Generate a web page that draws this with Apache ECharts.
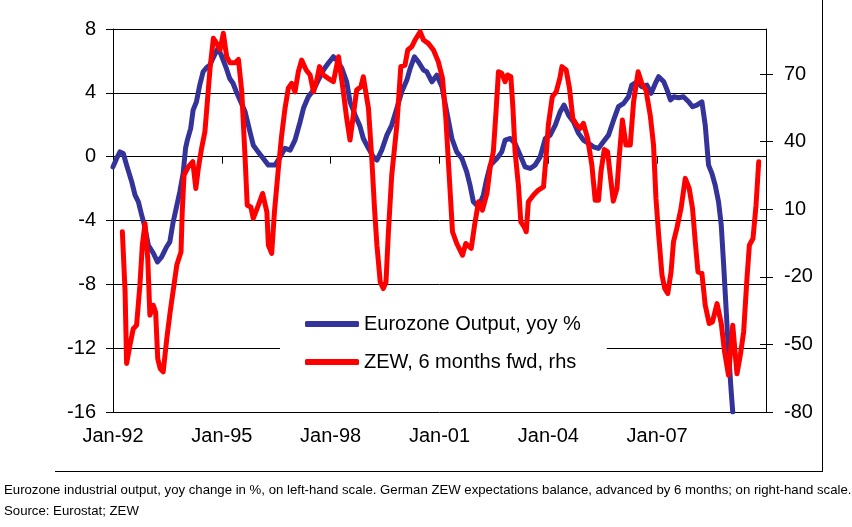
<!DOCTYPE html>
<html>
<head>
<meta charset="utf-8">
<script src="https://cdn.jsdelivr.net/npm/echarts@6/dist/echarts.min.js"></script>
<style>
html,body{margin:0;padding:0;background:#fff;}
#chart{width:852px;height:527px;}
</style>
</head>
<body>
<div id="chart"></div>
<script>
// x positions are months since Jan-92
var xTickLabels = ['Jan-92','Jan-95','Jan-98','Jan-01','Jan-04','Jan-07',''];
var seriesNames = ['Eurozone Output, yoy %', 'ZEW, 6 months fwd, rhs'];

var outputMonths = [0,1.2,2.3,3.4,4.5,6.2,7.3,8.4,9.5,10.4,11.7,13.4,14.7,16.1,17.7,18.8,19.9,21,22.1,23.2,24,24.6,25.7,26.5,27.6,28.7,29.8,30.9,32,33.6,34.7,35.8,37.5,38.6,39.7,40.8,42,43.7,45.3,46.4,48,49.7,51.4,53.6,55.3,56.9,58.6,60.2,61.9,63,64.6,66.3,67.9,69.6,71.2,72.9,74,75.7,77.3,78.4,80.1,81.7,82.8,84.5,86.1,87.3,88.9,90.6,92.2,93.9,95.5,97.2,98.3,99.7,101,102.7,103.8,105.5,107.1,108.8,110.4,112.1,113.7,115.4,117,118.1,119.2,120.9,122.5,123.5,124.8,127,128.6,129.7,131.4,133,134.7,136.3,138,139.6,141.3,143,144.6,146.3,147.9,149.2,150.7,152.3,154,155.6,157.3,158.9,160.6,162.2,163.9,165.6,167.2,168.9,170.5,171.6,173.3,174.9,176.6,178,179.4,180.5,182.2,183.3,184.4,185.5,187.1,188.7,190.4,191.7,193.1,194.8,195.9,197,198.1,199.2,200.3,201.2,202,202.8,203.6,204.5,205];
var outputValues = [-0.64,-0.11,0.3,0.2,-0.53,-1.58,-2.41,-2.83,-3.67,-4.3,-5.55,-6.07,-6.6,-6.28,-5.66,-5.34,-4.09,-3.15,-2.2,-1.05,0.52,1.04,1.77,2.92,3.44,4.49,5.32,5.57,5.74,6.37,6.79,6.37,5.53,4.9,4.6,4.07,3.55,2.81,1.56,0.72,0.3,-0.11,-0.53,-0.53,-0.01,0.52,0.41,1.04,2.19,3.03,3.75,4.17,4.8,5.43,5.85,6.26,6.05,5.53,4.69,3.44,2.6,1.9,1.14,0.52,-0.01,-0.22,0.41,1.35,1.98,3.03,4.07,4.8,5.53,6.26,5.95,5.43,5.32,4.69,5.11,4.38,2.81,1.14,0.3,-0.11,-0.95,-1.79,-2.83,-3.15,-2.41,-1.5,-0.53,-0.11,0.3,1.04,1.14,0.83,0.09,-0.64,-0.74,-0.53,-0.01,1.14,1.35,1.98,2.81,3.23,2.6,2.19,1.46,1.04,0.83,0.62,0.52,0.93,1.35,2.3,3.13,3.34,3.75,4.49,4.69,4.38,4.49,3.97,4.59,5.01,4.69,4.17,3.55,3.75,3.69,3.75,3.44,3.13,3.23,3.44,1.98,-0.53,-1.05,-1.79,-2.83,-4.3,-6.8,-9.52,-12.24,-14.75,-16];

var zewMonths = [3.1,4,4.5,5.6,6.7,7.8,8.9,9.7,10.6,11.5,12.2,13.3,14.1,14.8,15.6,16.6,17.8,18.9,20,21.1,22.5,22.9,23.5,24.9,26.4,27.4,28.2,29.3,30.4,31.3,32.1,33.2,34.3,35.4,36.5,37.6,38.7,40.4,41.5,42.6,43.7,44.4,45.6,46.4,48.1,49.5,50.9,51.4,52.5,53.4,54.7,55.8,56.9,58,59.1,60.2,61.3,62.4,63.9,65.2,66.3,67.4,68.3,69.6,71.2,72.9,74.6,76.2,77.3,78.4,79.5,80.6,82,82.8,83.4,84.5,85.6,86.5,87.3,88.4,89.4,90.3,91.1,92.2,93.9,95.2,96.6,97.5,98.8,99.9,101.6,102.7,104.3,106,107.6,109,110.1,111.2,112.3,113.7,115.6,116.7,118.5,119.6,120.9,122.2,123.7,124.8,125.8,126.7,127.5,128.6,129.7,130.5,131.6,132.3,133,134.1,134.9,136,136.7,137.4,139.1,140.7,142.4,143.3,144,145.3,146.6,147.8,148.5,149.9,151,152.1,153.4,154.5,155.6,157,158.4,159.5,160.6,161.4,162.5,163.6,164.6,165.5,166.7,167.5,168.5,169.7,171.1,172.2,173.7,174.9,176.3,177.7,178.8,179.6,180.5,181.6,182.5,183.5,184.6,185.4,186.5,187.9,189.3,190.6,191.7,192.6,193.5,194.8,195.9,197.2,198.3,199.8,201.2,202.3,203.6,205,206.4,207.5,208.6,209.7,210.5,211.7,212.7,213.6];
var zewValues = [0,-26.7,-58.5,-50.4,-43,-41.5,-23.7,-6,3.7,-11.9,-37,-32.6,-35.6,-56.3,-60.7,-62.2,-47.4,-35.6,-25.2,-14.8,-8.9,8.8,25.1,28.8,31.1,19.2,27.9,37,44.4,59.2,72.5,85.9,83.6,80.7,88.1,77.7,75,75,76.5,62.1,32.6,11.8,11,5.9,11.8,17,8.8,-6,-9.6,8.8,28.1,42.9,54.8,63.7,65.9,62.1,71,76.2,71.8,69.6,62.1,67.3,73.3,69.6,68.1,66.6,77.7,62.1,50.3,40.7,51.8,62.9,64.4,68.8,68.1,54.8,32.6,10.4,-6,-22.3,-25.2,-22.3,0,25.1,47.4,73.3,74,80.7,82.1,85.1,88.8,85.1,83.6,80.7,75.5,68.1,50.3,25.1,0,-5.2,-10.4,-5.2,-7.4,2.9,13.3,9.6,17,29,35.5,53.3,71,70.3,66.6,69.6,68.8,54.8,35.5,20.7,4.4,2.2,0,13.3,16.3,18.5,19.9,34,47.4,59.9,62.1,68.1,73.3,71.8,63.7,50.3,47.4,45.9,48.1,41.4,29.6,14,14,26.6,36.5,35.5,23.7,13.6,19.2,34,49.6,38.5,38.5,57.7,71,65.9,62.9,51.8,38.5,14.8,-1.5,-19.3,-25.2,-27.4,-17.8,-4.5,1.5,10.4,23.7,19.2,10.4,-4.5,-17.8,-18.5,-32.6,-40.7,-40,-31.9,-40.7,-53.3,-63.7,-41.5,-63,-54.8,-44.5,-20.8,-6,-3,11.8,31.1];

var leftTicks = [-16,-12,-8,-4,0,4,8];
var rightTicks = [-80,-50,-20,10,40,70];
var footnotes = [
  'Eurozone industrial output, yoy change in %, on left-hand scale. German ZEW expectations balance, advanced by 6 months; on right-hand scale.',
  'Source: Eurostat; ZEW'
];

function zip(a, b) { return a.map(function (v, i) { return [v, b[i]]; }); }

var FONT = '"Liberation Sans", Arial, sans-serif';
var chart = echarts.init(document.getElementById('chart'), null, {renderer: 'canvas'});
chart.setOption({
  animation: false,
  backgroundColor: '#ffffff',
  textStyle: {fontFamily: FONT},
  grid: {left: 113, right: 86, top: 29, bottom: 115, containLabel: false, show: false},
  xAxis: {
    type: 'value', min: 0, max: 216, interval: 36,
    axisLine: {show: true, lineStyle: {color: '#000', width: 1}},
    axisTick: {show: true, inside: false, length: 7, lineStyle: {color: '#000'}},
    axisLabel: {fontSize: 20, color: '#000', fontFamily: FONT, margin: 14,
      formatter: function (v) { return xTickLabels[Math.round(v / 36)] || ''; }},
    splitLine: {show: false}
  },
  yAxis: [{
    type: 'value', min: -16, max: 8, interval: 4, position: 'left',
    axisLine: {show: true, lineStyle: {color: '#000', width: 1}},
    axisTick: {show: true, inside: false, length: 7, lineStyle: {color: '#000'}},
    axisLabel: {fontSize: 20, color: '#000', fontFamily: FONT, margin: 17,
      customValues: leftTicks},
    splitLine: {show: true, lineStyle: {color: '#000', width: 1}}
  }, {
    type: 'value', min: -80, max: 90, interval: 30, position: 'right',
    axisLine: {show: true, lineStyle: {color: '#000', width: 1}},
    axisTick: {show: true, inside: false, length: 7, lineStyle: {color: '#000'}, customValues: rightTicks},
    axisLabel: {fontSize: 20, color: '#000', fontFamily: FONT, margin: 18, customValues: rightTicks},
    splitLine: {show: false}
  }, {
    type: 'value', min: -80, max: 90, interval: 30, position: 'right',
    axisLine: {show: false},
    axisTick: {show: true, inside: true, length: 6, lineStyle: {color: '#000'}, customValues: rightTicks},
    axisLabel: {show: false},
    splitLine: {show: false}
  }],
  legend: {
    orient: 'vertical', left: 280, top: 296,
    padding: [18, 26, 18, 25],
    backgroundColor: '#ffffff',
    itemWidth: 54, itemHeight: 6, itemGap: 18,
    textStyle: {fontSize: 20, color: '#000', fontFamily: FONT, lineHeight: 20},
    data: [{name: seriesNames[0], icon: 'roundRect'}, {name: seriesNames[1], icon: 'roundRect'}]
  },
  series: [{
    name: seriesNames[0], type: 'line', yAxisIndex: 0,
    data: zip(outputMonths, outputValues),
    symbol: 'none', smooth: false,
    lineStyle: {color: '#333399', width: 5, cap: 'round', join: 'round'},
    itemStyle: {color: '#333399'}
  }, {
    name: seriesNames[1], type: 'line', yAxisIndex: 1,
    data: zip(zewMonths, zewValues),
    symbol: 'none', smooth: false,
    lineStyle: {color: '#ff0000', width: 5, cap: 'round', join: 'round'},
    itemStyle: {color: '#ff0000'}
  }],
  graphic: [
    {type: 'line', shape: {x1: 822.5, y1: 0, x2: 822.5, y2: 471}, style: {stroke: '#000', lineWidth: 1}, silent: true},
    {type: 'line', shape: {x1: 55, y1: 471.5, x2: 823, y2: 471.5}, style: {stroke: '#000', lineWidth: 1}, silent: true},
    {type: 'line', shape: {x1: 113, y1: 29.5, x2: 766, y2: 29.5}, style: {stroke: '#000', lineWidth: 1}, silent: true},
    {type: 'text', left: 4, top: 484, style: {text: footnotes[0], fontSize: 13.2, fontFamily: FONT, fill: '#000'}},
    {type: 'text', left: 4, top: 505, style: {text: footnotes[1], fontSize: 13.2, fontFamily: FONT, fill: '#000'}}
  ]
});
</script>
</body>
</html>
